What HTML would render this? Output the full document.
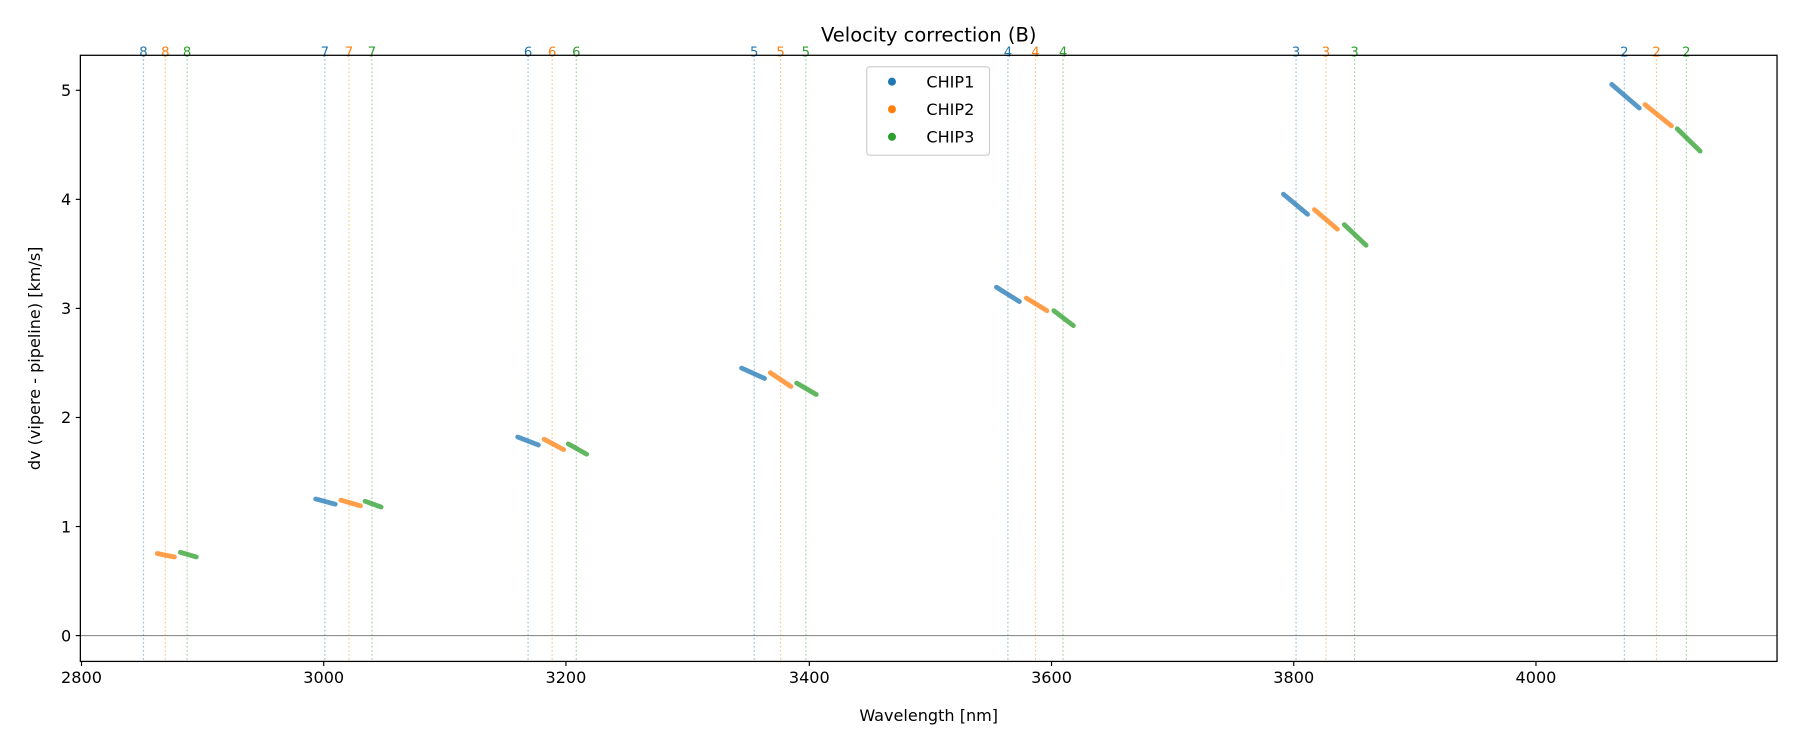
<!DOCTYPE html>
<html><head><meta charset="utf-8"><style>
html,body{margin:0;padding:0;background:#fff;width:1800px;height:750px;overflow:hidden}
svg{display:block}
text{font-family:"DejaVu Sans","Liberation Sans",sans-serif}
</style></head><body>
<svg width="1800" height="750" viewBox="0 0 1568 653" xmlns="http://www.w3.org/2000/svg">
<rect width="1568" height="653" fill="#fff"/>
<text x="809" y="36" font-size="17" text-anchor="middle" fill="#000">Velocity correction (B)</text>
<line x1="70" x2="1548" y1="553.5" y2="553.5" stroke="#808080" stroke-width="0.9"/>
<g stroke-width="1" stroke-dasharray="1.5,2" opacity="0.45">
<g stroke="#1f77b4">
<line x1="125" x2="125" y1="48" y2="576"/><line x1="283" x2="283" y1="48" y2="576"/><line x1="460" x2="460" y1="48" y2="576"/><line x1="657" x2="657" y1="48" y2="576"/><line x1="878" x2="878" y1="48" y2="576"/><line x1="1129" x2="1129" y1="48" y2="576"/><line x1="1415" x2="1415" y1="48" y2="576"/>
</g>
<g stroke="#ff7f0e">
<line x1="144" x2="144" y1="48" y2="576"/><line x1="304" x2="304" y1="48" y2="576"/><line x1="481" x2="481" y1="48" y2="576"/><line x1="680" x2="680" y1="48" y2="576"/><line x1="902" x2="902" y1="48" y2="576"/><line x1="1155" x2="1155" y1="48" y2="576"/><line x1="1443" x2="1443" y1="48" y2="576"/>
</g>
<g stroke="#2ca02c">
<line x1="163" x2="163" y1="48" y2="576"/><line x1="324" x2="324" y1="48" y2="576"/><line x1="502" x2="502" y1="48" y2="576"/><line x1="702" x2="702" y1="48" y2="576"/><line x1="926" x2="926" y1="48" y2="576"/><line x1="1180" x2="1180" y1="48" y2="576"/><line x1="1469" x2="1469" y1="48" y2="576"/>
</g>
</g>
<g font-size="11.5" text-anchor="middle">
<g fill="#1f77b4"><text x="125" y="49">8</text><text x="283" y="49">7</text><text x="460" y="49">6</text><text x="657" y="49">5</text><text x="878" y="49">4</text><text x="1129" y="49">3</text><text x="1415" y="49">2</text></g>
<g fill="#ff7f0e"><text x="144" y="49">8</text><text x="304" y="49">7</text><text x="481" y="49">6</text><text x="680" y="49">5</text><text x="902" y="49">4</text><text x="1155" y="49">3</text><text x="1443" y="49">2</text></g>
<g fill="#2ca02c"><text x="163" y="49">8</text><text x="324" y="49">7</text><text x="502" y="49">6</text><text x="702" y="49">5</text><text x="926" y="49">4</text><text x="1180" y="49">3</text><text x="1469" y="49">2</text></g>
</g>
<g stroke-width="4.2" stroke-linecap="round" opacity="0.75">
<g stroke="#1f77b4">
<line x1="275" y1="434.5" x2="292" y2="439"/>
<line x1="451" y1="380.5" x2="469" y2="387.5"/>
<line x1="646" y1="320.5" x2="666" y2="329.5"/>
<line x1="868" y1="250" x2="888" y2="262.5"/>
<line x1="1118" y1="169" x2="1139" y2="186.5"/>
<line x1="1404" y1="73.4" x2="1428" y2="94"/>
</g>
<g stroke="#ff7f0e">
<line x1="137" y1="482" x2="152" y2="485"/>
<line x1="297" y1="435.5" x2="314" y2="440.5"/>
<line x1="474" y1="382.5" x2="491" y2="391.5"/>
<line x1="671" y1="324.5" x2="689" y2="336.5"/>
<line x1="894" y1="259.5" x2="912" y2="270.5"/>
<line x1="1145" y1="182.5" x2="1165" y2="199.5"/>
<line x1="1433" y1="91" x2="1456" y2="109.5"/>
</g>
<g stroke="#2ca02c">
<line x1="157" y1="481" x2="171" y2="485"/>
<line x1="318" y1="436.5" x2="332" y2="441.5"/>
<line x1="495" y1="386.5" x2="511" y2="395.5"/>
<line x1="694" y1="333.5" x2="711" y2="343.5"/>
<line x1="918" y1="270.5" x2="935" y2="283.5"/>
<line x1="1171" y1="195.5" x2="1190" y2="213.5"/>
<line x1="1461" y1="112" x2="1481" y2="131.5"/>
</g>
</g>
<rect x="70" y="48" width="1478" height="528" fill="none" stroke="#000" stroke-width="1.1"/>
<g stroke="#000" stroke-width="1">
<line x1="71" x2="71" y1="576" y2="580"/><line x1="282" x2="282" y1="576" y2="580"/><line x1="493" x2="493" y1="576" y2="580"/><line x1="705" x2="705" y1="576" y2="580"/><line x1="916" x2="916" y1="576" y2="580"/><line x1="1127" x2="1127" y1="576" y2="580"/><line x1="1338" x2="1338" y1="576" y2="580"/>
<line x1="66" x2="70" y1="553.5" y2="553.5"/><line x1="66" x2="70" y1="458.5" y2="458.5"/><line x1="66" x2="70" y1="363.5" y2="363.5"/><line x1="66" x2="70" y1="268.5" y2="268.5"/><line x1="66" x2="70" y1="173.5" y2="173.5"/><line x1="66" x2="70" y1="78.5" y2="78.5"/>
</g>
<g font-size="14" fill="#000" text-anchor="middle">
<text x="71" y="595">2800</text><text x="282" y="595">3000</text><text x="493" y="595">3200</text><text x="705" y="595">3400</text><text x="916" y="595">3600</text><text x="1127" y="595">3800</text><text x="1338" y="595">4000</text>
</g>
<g font-size="14" fill="#000" text-anchor="end">
<text x="62" y="558.5">0</text><text x="62" y="463.5">1</text><text x="62" y="368.5">2</text><text x="62" y="273.5">3</text><text x="62" y="178.5">4</text><text x="62" y="83.5">5</text>
</g>
<text x="809" y="628" font-size="14" text-anchor="middle">Wavelength [nm]</text>
<text transform="translate(35,312) rotate(-90)" font-size="14" text-anchor="middle">dv (vipere - pipeline) [km/s]</text>
<rect x="755" y="58" width="107" height="77" rx="2.5" fill="#fff" fill-opacity="0.8" stroke="#ccc" stroke-width="1"/>
<circle cx="777" cy="71" r="3.5" fill="#1f77b4"/>
<circle cx="777" cy="95" r="3.5" fill="#ff7f0e"/>
<circle cx="777" cy="119" r="3.5" fill="#2ca02c"/>
<g font-size="14" fill="#000"><text x="807" y="76">CHIP1</text><text x="807" y="100">CHIP2</text><text x="807" y="124">CHIP3</text></g>
</svg>
</body></html>
